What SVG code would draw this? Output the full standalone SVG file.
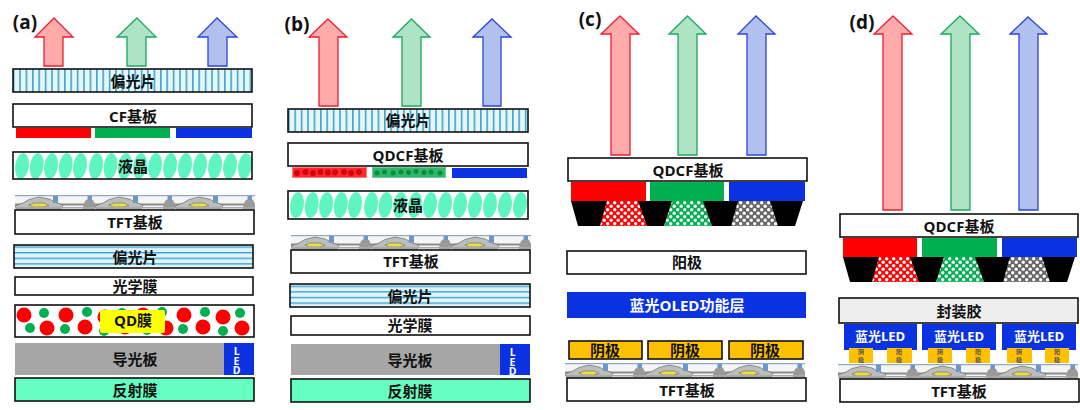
<svg xmlns="http://www.w3.org/2000/svg" xmlns:xlink="http://www.w3.org/1999/xlink" width="1080" height="410" viewBox="0 0 1080 410">
<style>
text{font-family:"Open Sans","Noto Sans CJK SC",sans-serif;font-weight:700;font-size:15px;text-anchor:middle;dominant-baseline:central;fill:#111;transform:translateY(.5px)}
.tag{font-size:19px}
.w{fill:#fff;stroke:#111;stroke-width:1.6}
.pv{fill:url(#pv);stroke:#111;stroke-width:1.6}
.ph{fill:url(#ph);stroke:#111;stroke-width:1.6}
.box{fill:none;stroke:#111;stroke-width:1.6}
.ar{fill:#ffabab;stroke:#ee1c30;stroke-width:1.3}
.ag{fill:#aee3c4;stroke:#1aa862;stroke-width:1.3}
.ab{fill:#b2c0f0;stroke:#2a46d8;stroke-width:1.3}
.r{fill:#f00}.g{fill:#00b050}.b{fill:#0a32e0}
.gl{fill:#a6a6a6}
.ref{fill:#66ffc2;stroke:#111;stroke-width:1.6}
.lc{fill:#5ff5c0}
.led{fill:#fff;font-size:10.5px;writing-mode:vertical-rl;text-orientation:upright;letter-spacing:-4.5px}
.ltxt{fill:#fff;font-size:13px}
.o{fill:#ffc000;stroke:#111;stroke-width:1.6}
.p{fill:#ffc000}
.tiny{font-size:6px;fill:#555}
</style>
<defs>
<pattern id="pv" width="6.4" height="10" patternUnits="userSpaceOnUse"><rect width="6.4" height="10" fill="#e6f6fb"/><rect x="0" width="1.6" height="10" fill="#3aa6cf"/></pattern>
<pattern id="ph" width="10" height="5.6" patternUnits="userSpaceOnUse"><rect width="10" height="5.6" fill="#e2f4fb"/><rect y="0" width="10" height="1.4" fill="#3aa6cf"/></pattern>
<pattern id="cr" width="7" height="7" patternUnits="userSpaceOnUse"><rect width="7" height="7" fill="#f00"/><circle cx="1.7" cy="1.700" r="1.700" fill="#fff"/><circle cx="5.200" cy="5.200" r="1.700" fill="#fff"/></pattern>
<pattern id="cg" width="7" height="7" patternUnits="userSpaceOnUse"><rect width="7" height="7" fill="#00b050"/><circle cx="1.7" cy="1.700" r="1.700" fill="#fff"/><circle cx="5.200" cy="5.200" r="1.700" fill="#fff"/></pattern>
<pattern id="ck" width="7" height="7" patternUnits="userSpaceOnUse"><rect width="7" height="7" fill="#666"/><circle cx="1.7" cy="1.700" r="1.700" fill="#fff"/><circle cx="5.200" cy="5.200" r="1.700" fill="#fff"/></pattern>
<g id="tftu">
<rect x="0" y="0" width="80" height="1.200" fill="#8fa8c8"/>
<rect x="0" y="8.500" width="80" height="2" fill="#8c8c8c"/>
<path d="M0 11 L8 8 L14 4.500 L24 2 L34 4 L42 8 L48 10 L46 14 L2 14Z" fill="#bdbdbd" stroke="#777" stroke-width=".8"/>
<path d="M14 10 L19 8 L29 8 L34 10.500 L29 12 L18 12Z" fill="#e8de4a" stroke="#666" stroke-width=".6"/>
<rect x="38" y="1" width="5" height="7" fill="#6d97c8"/>
<path d="M68 12 L70 6 L74 3.500 L78 5 L80 9 L80 14 L68 14Z" fill="#9a9a9a"/>
<rect x="72.500" y="1" width="4.500" height="4" fill="#6d97c8"/>
<rect x="0" y="12" width="80" height="1.500" fill="#aaa"/>
</g>
<g id="tft"><rect width="240" height="15" fill="#f4f4f4"/><use xlink:href="#tftu"/><use xlink:href="#tftu" x="80"/><use xlink:href="#tftu" x="160"/></g>
<g id="lcrow">
<ellipse cx="22" cy="0" rx="6.800" ry="13" transform="rotate(8 22 0)"/><ellipse cx="36.700" cy="0" rx="6.800" ry="13" transform="rotate(8 36.700 0)"/><ellipse cx="51" cy="0" rx="6.800" ry="13" transform="rotate(8 51 0)"/><ellipse cx="65.700" cy="0" rx="6.800" ry="13" transform="rotate(8 65.700 0)"/><ellipse cx="80" cy="0" rx="6.800" ry="13" transform="rotate(8 80 0)"/><ellipse cx="96" cy="0" rx="6.800" ry="13" transform="rotate(8 96 0)"/><ellipse cx="110.500" cy="0" rx="6.800" ry="13" transform="rotate(8 110.500 0)"/><ellipse cx="125" cy="0" rx="6.800" ry="13" transform="rotate(8 125 0)"/><ellipse cx="140" cy="0" rx="6.800" ry="13" transform="rotate(8 140 0)"/><ellipse cx="155" cy="0" rx="6.800" ry="13" transform="rotate(8 155 0)"/><ellipse cx="170" cy="0" rx="6.800" ry="13" transform="rotate(8 170 0)"/><ellipse cx="185" cy="0" rx="6.800" ry="13" transform="rotate(8 185 0)"/><ellipse cx="200" cy="0" rx="6.800" ry="13" transform="rotate(8 200 0)"/><ellipse cx="215" cy="0" rx="6.800" ry="13" transform="rotate(8 215 0)"/><ellipse cx="230" cy="0" rx="6.800" ry="13" transform="rotate(8 230 0)"/><ellipse cx="245" cy="0" rx="6.800" ry="13" transform="rotate(8 245 0)"/>
</g>
<g id="wells">
<path d="M0 0H232L224 25H7Z" fill="#000"/>
<path d="M36 0H67L76 25H29Z" fill="url(#cr)"/>
<path d="M101 0H132L141 25H93Z" fill="url(#cg)"/>
<path d="M167 0H199L207 25H160Z" fill="url(#ck)"/>
</g>
</defs>
<rect width="1080" height="410" fill="#fff"/>

<g id="panel-a">
<text class="tag" x="25" y="21">(a)</text>
<g id="a-arrows"><polygon class="ar" points="54,18 73,37 63,37 63,66 44,66 44,37 35,37"/><polygon class="ag" points="137,18 156,37 146,37 146,66 127,66 127,37 117,37"/><polygon class="ab" points="217,18 237,37 227,37 227,66 208,66 208,37 198,37"/></g>
<g id="a-pol1"><rect class="pv" x="13" y="69" width="239" height="23"/><text x="133" y="80">偏光片</text></g>
<g id="a-cf"><rect class="w" x="13" y="104" width="239" height="23"/><text x="133" y="115">CF基板</text></g>
<g id="a-colors"><rect class="r" x="16" y="128" width="75" height="10"/><rect class="g" x="95" y="128" width="75" height="10"/><rect class="b" x="176" y="128" width="76" height="10"/></g>
<g id="a-lc"><rect fill="#fff" x="13" y="152" width="239" height="27"/><use xlink:href="#lcrow" class="lc" y="166"/><rect class="box" x="13" y="152" width="239" height="27"/><text x="133" y="165">液晶</text></g>
<g id="a-tft"><use xlink:href="#tft" x="15" y="195"/><rect class="w" x="15" y="210" width="239" height="24"/><text x="135" y="221">TFT基板</text></g>
<g id="a-pol2"><rect class="ph" x="14" y="245" width="239" height="23"/><text x="135" y="256">偏光片</text></g>
<g id="a-opt"><rect class="w" x="15" y="277" width="238" height="18"/><text x="135" y="285">光学膜</text></g>
<g id="a-qd"><rect fill="#fff" x="15" y="305" width="239" height="32"/>
<g fill="#f00"><circle cx="24" cy="315" r="7.500"/><circle cx="47" cy="328" r="7.500"/><circle cx="66" cy="315" r="7.500"/><circle cx="85" cy="327" r="7.500"/><circle cx="105" cy="317" r="7.500"/><circle cx="125" cy="327" r="7.500"/><circle cx="143" cy="315" r="7.500"/><circle cx="166" cy="328" r="7.500"/><circle cx="184" cy="315" r="7.500"/><circle cx="203" cy="327" r="7.500"/><circle cx="223" cy="317" r="7.500"/><circle cx="242" cy="328" r="7.500"/></g>
<g fill="#00b050"><circle cx="44" cy="313" r="5"/><circle cx="30" cy="328" r="5"/><circle cx="87" cy="312" r="5"/><circle cx="65" cy="329" r="5"/><circle cx="122" cy="313" r="5"/><circle cx="104" cy="331" r="5"/><circle cx="162" cy="312" r="5"/><circle cx="147" cy="330" r="5"/><circle cx="205" cy="312" r="5"/><circle cx="183" cy="329" r="5"/><circle cx="240" cy="313" r="5"/><circle cx="223" cy="331" r="5"/></g>
<rect class="box" x="15" y="305" width="239" height="32"/><rect x="100" y="310" width="65" height="23" rx="2" fill="#ff0"/><text x="133" y="319">QD膜</text></g>
<g id="a-guide"><rect class="gl" x="15" y="343" width="209" height="32"/><text x="135" y="358">导光板</text><rect class="b" x="224" y="343" width="30" height="32"/><text class="led" x="236.500" y="358">LED</text></g>
<g id="a-ref"><rect class="ref" x="15" y="378" width="239" height="23"/><text x="135" y="389">反射膜</text></g>
</g>

<g id="panel-b">
<text class="tag" x="297" y="23">(b)</text>
<g id="b-arrows"><polygon class="ar" points="328,19 347,37 338,37 338,106 319,106 319,37 309,37"/><polygon class="ag" points="411.500,19 430,37 421,37 421,106 402,106 402,37 393,37"/><polygon class="ab" points="492,19 511,37 501,37 501,106 483,106 483,37 473,37"/></g>
<g id="b-pol1"><rect class="pv" x="288" y="109" width="240" height="23"/><text x="408" y="119">偏光片</text></g>
<g id="b-cf"><rect class="w" x="288" y="143" width="240" height="23"/><text x="408" y="154">QDCF基板</text></g>
<g id="b-colors"><rect class="b" x="452" y="168" width="75" height="10"/>
<rect x="292.500" y="167.500" width="74" height="10" fill="#ff2a2a" stroke="#ff7a7a"/><rect x="372.500" y="167.500" width="73" height="10" fill="#2fb868" stroke="#66cc99"/>
<g fill="#d80010"><circle cx="297" cy="173" r="3"/><circle cx="305.500" cy="172" r="3"/><circle cx="313" cy="173" r="3"/><circle cx="320.500" cy="172" r="3"/><circle cx="328" cy="172.500" r="3"/><circle cx="335" cy="172.500" r="3"/><circle cx="344" cy="172" r="3"/><circle cx="351" cy="173" r="3"/><circle cx="359" cy="172" r="3"/></g>
<g fill="#0a8a40"><circle cx="377" cy="173" r="2.500"/><circle cx="384.500" cy="172" r="2.500"/><circle cx="393" cy="173" r="2.500"/><circle cx="401" cy="172" r="2.500"/><circle cx="408.500" cy="172.500" r="2.500"/><circle cx="416" cy="171.500" r="2.500"/><circle cx="424" cy="172.500" r="2.500"/><circle cx="431" cy="172" r="2.500"/><circle cx="440" cy="173" r="2.500"/></g></g>
<g id="b-lc"><rect fill="#fff" x="288" y="191" width="240" height="28"/><use xlink:href="#lcrow" class="lc" x="275" y="205"/><rect class="box" x="288" y="191" width="240" height="28"/><text x="408" y="204">液晶</text></g>
<g id="b-tft"><use xlink:href="#tft" x="291" y="235"/><rect class="w" x="291" y="250" width="239" height="23"/><text x="411" y="260">TFT基板</text></g>
<g id="b-pol2"><rect class="ph" x="290" y="284" width="240" height="23"/><text x="410" y="295">偏光片</text></g>
<g id="b-opt"><rect class="w" x="291" y="316" width="239" height="19"/><text x="410" y="324">光学膜</text></g>
<g id="b-guide"><rect class="gl" x="291" y="344" width="209" height="31"/><text x="410" y="359">导光板</text><rect class="b" x="500" y="344" width="30" height="31"/><text class="led" x="512.500" y="359">LED</text></g>
<g id="b-ref"><rect class="ref" x="291" y="379" width="239" height="23"/><text x="410" y="390">反射膜</text></g>
</g>

<g id="panel-c">
<text class="tag" x="590" y="18">(c)</text>
<g id="c-arrows"><polygon class="ar" points="620,16 639,34 630,34 630,155 611,155 611,34 601,34"/><polygon class="ag" points="687.500,16 706,34 697,34 697,155 678,155 678,34 669,34"/><polygon class="ab" points="756,16 775,34 766,34 766,155 747,155 747,34 738,34"/></g>
<g id="c-cf"><rect class="w" x="568" y="158" width="239" height="23"/><text x="688" y="169">QDCF基板</text></g>
<g id="c-colors"><rect class="r" x="571" y="182" width="75" height="19"/><rect class="g" x="650" y="182" width="74" height="19"/><rect class="b" x="729" y="182" width="76" height="19"/></g>
<use id="c-wells" xlink:href="#wells" x="571" y="201"/>
<g id="c-anode"><rect class="w" x="567" y="251" width="239" height="23"/><text x="687" y="261">阳极</text></g>
<g id="c-oled"><rect class="b" x="567" y="292" width="239" height="26"/><text class="ltxt" style="font-size:15px" x="687" y="304">蓝光OLED功能层</text></g>
<g id="c-cath"><rect class="o" x="569" y="341" width="73" height="18"/><text x="605" y="349">阴极</text><rect class="o" x="648" y="341" width="74" height="18"/><text x="685" y="349">阴极</text><rect class="o" x="729" y="341" width="74" height="18"/><text x="765" y="349">阴极</text></g>
<g id="c-tft"><use xlink:href="#tft" x="565" y="363"/><rect class="w" x="567" y="378" width="239" height="23"/><text x="687" y="389">TFT基板</text></g>
</g>

<g id="panel-d">
<text class="tag" x="862" y="21">(d)</text>
<g id="d-arrows"><polygon class="ar" points="893,16 912,34 902,34 902,210 883,210 883,34 874,34"/><polygon class="ag" points="960,16 979,34 970,34 970,210 951,210 951,34 941,34"/><polygon class="ab" points="1028,17 1047,34 1038,34 1038,210 1019,210 1019,34 1010,34"/></g>
<g id="d-cf"><rect class="w" x="840" y="214" width="238" height="23"/><text x="959" y="225">QDCF基板</text></g>
<g id="d-colors"><rect class="r" x="843" y="238" width="74" height="19"/><rect class="g" x="922" y="238" width="75" height="19"/><rect class="b" x="1002" y="238" width="75" height="19"/></g>
<use id="d-wells" xlink:href="#wells" x="843" y="257"/>
<g id="d-seal"><rect x="839" y="298" width="239" height="25" fill="#eee" stroke="#111" stroke-width="1.600"/><text x="959" y="310">封装胶</text></g>
<g id="d-led"><rect class="b" x="844" y="324" width="73" height="26"/><text class="ltxt" x="880" y="335">蓝光LED</text><rect class="b" x="922" y="324" width="74" height="26"/><text class="ltxt" x="959" y="335">蓝光LED</text><rect class="b" x="1002" y="324" width="74" height="26"/><text class="ltxt" x="1039" y="335">蓝光LED</text></g>
<g id="d-pads"><rect class="p" x="849" y="348" width="24" height="15"/><rect class="p" x="887" y="348" width="25" height="15"/><rect class="p" x="928" y="348" width="24" height="15"/><rect class="p" x="966" y="348" width="24" height="15"/><rect class="p" x="1007" y="348" width="25" height="15"/><rect class="p" x="1045" y="348" width="24" height="15"/>
<text class="tiny" x="861" y="351">阴</text><text class="tiny" x="861" y="359">极</text><text class="tiny" x="899" y="351">阳</text><text class="tiny" x="899" y="359">极</text><text class="tiny" x="940" y="351">阴</text><text class="tiny" x="940" y="359">极</text><text class="tiny" x="978" y="351">阳</text><text class="tiny" x="978" y="359">极</text><text class="tiny" x="1019" y="351">阴</text><text class="tiny" x="1019" y="359">极</text><text class="tiny" x="1057" y="351">阳</text><text class="tiny" x="1057" y="359">极</text></g>
<g id="d-tft"><use xlink:href="#tft" x="838" y="364"/><rect class="w" x="840" y="379" width="239" height="23"/><text x="959" y="390">TFT基板</text></g>
</g>
</svg>
